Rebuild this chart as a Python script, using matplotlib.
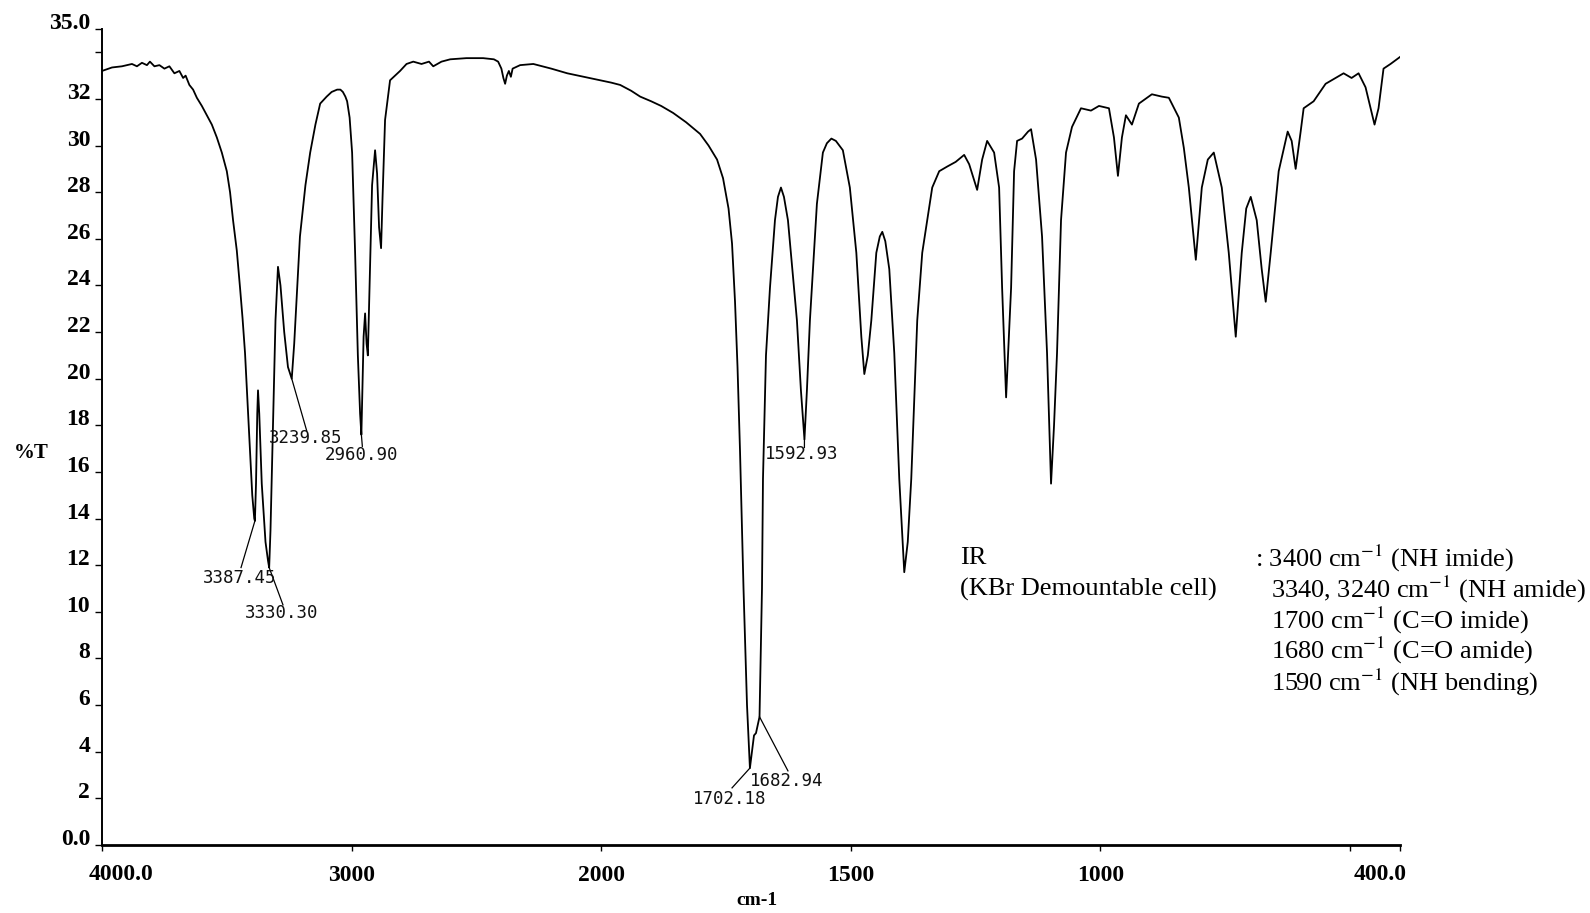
import numpy as np
import matplotlib.pyplot as plt

plt.rcParams['font.family'] = ['Liberation Serif', 'DejaVu Serif']
plt.rcParams['mathtext.fontset'] = 'stix'

# IR spectrum, wavenumber (cm-1) vs %T
wavenumber = [
    4000, 3960, 3920, 3880, 3860, 3840, 3820, 3808, 3790, 3770, 3750, 3730,
    3710, 3690, 3675, 3665, 3650, 3635, 3620, 3600, 3580, 3560, 3540, 3520,
    3500, 3487, 3475, 3460, 3447, 3437, 3427, 3410, 3398, 3390, 3387.45,
    3383, 3378, 3375, 3370, 3360, 3345, 3335, 3330.30, 3325, 3315, 3305,
    3295, 3285, 3270, 3255, 3239.85, 3230, 3207, 3185, 3166, 3145, 3126,
    3100, 3080, 3058, 3045, 3035, 3025, 3018, 3008, 2998, 2986, 2975, 2966,
    2960.90, 2957, 2952, 2946, 2940, 2935, 2928, 2918, 2906, 2898, 2890,
    2882, 2876, 2866, 2846, 2806, 2780, 2753, 2720, 2690, 2673, 2640, 2605,
    2540, 2473, 2430, 2413, 2400, 2392, 2385, 2378, 2370, 2362, 2355, 2325,
    2272, 2200, 2136, 2070, 2004, 1980, 1962, 1940, 1922, 1900, 1880, 1856,
    1830, 1802, 1785, 1768, 1756, 1745, 1738, 1732, 1727, 1722, 1715, 1708,
    1702.18, 1698, 1694, 1690, 1686, 1682.94, 1678, 1676, 1670, 1662, 1652,
    1646, 1640, 1634, 1626, 1608, 1600, 1592.93, 1588, 1582, 1568, 1556,
    1548, 1539, 1530, 1516, 1502, 1489, 1479, 1473, 1466, 1459, 1449, 1442,
    1437, 1431, 1423, 1413, 1403, 1393, 1386, 1379, 1367, 1357, 1337, 1323,
    1307, 1290, 1273, 1263, 1247, 1237, 1227, 1213, 1203, 1197, 1189, 1184,
    1179, 1173, 1167, 1157, 1145, 1139, 1129, 1117, 1107, 1099, 1093, 1087,
    1079, 1069, 1057, 1039, 1019, 1003, 983, 973, 965, 957, 949, 937, 923,
    897, 877, 863, 843, 833, 823, 809, 797, 785, 773, 757, 743, 729, 717,
    708, 699, 687, 677, 669, 659, 643, 625, 617, 609, 599, 593, 573, 549,
    513, 497, 483, 469, 451, 443, 433, 419, 400,
]
transmittance = [
    33.2, 33.35, 33.4, 33.5, 33.4, 33.55, 33.45, 33.6, 33.4, 33.45, 33.3, 33.4,
    33.1, 33.2, 32.9, 33.0, 32.6, 32.4, 32.05, 31.7, 31.3, 30.9, 30.35, 29.7,
    28.9, 28.0, 26.8, 25.5, 23.9, 22.6, 21.1, 17.5, 15.0, 14.0, 13.9,
    15.5, 18.5, 19.5, 18.5, 15.5, 13.0, 12.2, 11.9, 13.5, 18.0, 22.5,
    24.8, 24.0, 22.0, 20.5, 20.0, 21.5, 26.1, 28.3, 29.7, 30.9, 31.8,
    32.1, 32.3, 32.4, 32.4, 32.3, 32.1, 31.9, 31.2, 29.7, 25.4, 21.0, 18.5,
    17.6, 19.5, 21.8, 22.8, 21.5, 21.0, 24.0, 28.3, 29.8, 28.8, 26.5,
    25.6, 27.8, 31.1, 32.8, 33.2, 33.5, 33.6, 33.5, 33.6, 33.4, 33.6, 33.7,
    33.75, 33.75, 33.7, 33.6, 33.3, 32.9, 32.65, 33.0, 33.2, 32.95, 33.3, 33.45,
    33.5, 33.3, 33.1, 32.95, 32.8, 32.7, 32.6, 32.35, 32.1, 31.9, 31.7, 31.4,
    31.0, 30.5, 30.0, 29.4, 28.6, 27.3, 25.8, 23.3, 20.5, 16.9, 11.0, 6.0,
    3.3, 4.0, 4.7, 4.8, 5.2, 5.5, 11.0, 15.7, 21.0, 23.9, 26.8,
    27.8, 28.2, 27.8, 26.8, 22.5, 19.5, 17.4, 19.5, 22.5, 27.5, 29.7,
    30.1, 30.3, 30.2, 29.8, 28.2, 25.4, 21.8, 20.2, 21.0, 22.5, 25.4, 26.1,
    26.3, 25.9, 24.7, 21.1, 15.7, 11.7, 13.0, 15.7, 22.5, 25.4, 28.2, 28.9,
    29.1, 29.3, 29.6, 29.2, 28.1, 29.4, 30.2, 29.7, 28.2, 23.9, 19.2, 21.5,
    23.9, 28.9, 30.2, 30.3, 30.6, 30.7, 29.4, 26.1, 21.1, 15.5, 18.0, 21.1,
    26.8, 29.7, 30.8, 31.6, 31.5, 31.7, 31.6, 30.35, 28.7, 30.35, 31.3, 30.9, 31.8,
    32.2, 32.1, 32.05, 31.2, 29.9, 28.2, 25.1, 28.2, 29.4, 29.7, 28.2, 25.4, 21.8, 25.4,
    27.3, 27.8, 26.8, 24.7, 23.3, 25.4, 28.9, 30.6, 30.2, 29.0, 30.6, 31.6, 31.9, 32.65,
    33.1, 32.9, 33.1, 32.5, 30.9, 31.6, 33.3, 33.5, 33.8,
]

# peak picks: label, text anchor (left, middle) and leader end
peak_names = ['3387.45', '3330.30', '3239.85', '2960.90', '1702.18', '1682.94', '1592.93']
peak_wn = [3387.45, 3330.30, 3239.85, 2960.90, 1702.18, 1682.94, 1592.93]
label_x = [3595, 3427, 3332, 3106, 1816, 1702, 1672]
label_y = [11.46, 9.96, 17.47, 16.74, 1.97, 2.75, 16.78]
leader_x = [3443, 3275, 3180, 2957, 1738, 1626, 1593]
leader_y = [11.9, 10.3, 17.77, 17.1, 2.45, 3.18, 17.05]

ytick_vals = [0, 2, 4, 6, 8, 10, 12, 14, 16, 18, 20, 22, 24, 26, 28, 30, 32, 34, 35]
ytick_text = ['0.0', '2', '4', '6', '8', '10', '12', '14', '16', '18', '20', '22',
              '24', '26', '28', '30', '32', '', '35.0']
xtick_vals = [4000, 3000, 2000, 1500, 1000, 500, 400]
xtick_text = ['', '3000', '2000', '1500', '1000', '', '']

assignments = [
    ': 3400 cm$^{-1}$ (NH imide)',
    '3340, 3240 cm$^{-1}$ (NH amide)',
    '1700 cm$^{-1}$ (C=O imide)',
    '1680 cm$^{-1}$ (C=O amide)',
    '1590 cm$^{-1}$ (NH bending)',
]


def fwd(w):
    # below 2000 cm-1 the axis is stretched by a factor of two
    w = np.asarray(w, dtype=float)
    return np.where(w >= 2000, w, 2 * w - 2000)


def inv(p):
    p = np.asarray(p, dtype=float)
    return np.where(p >= 2000, p, (p + 2000) / 2)


W, H = 1590, 913
fig = plt.figure(figsize=(W / 100, H / 100), dpi=100)
ax = fig.add_axes([102 / W, 1 - 845 / H, (1400 - 102) / W, (845 - 29) / H])
ax.set_xscale('function', functions=(fwd, inv))

ax.plot(wavenumber, transmittance, color='black', lw=1.3)
ax.set_xlim(4000, 400)
ax.set_ylim(0, 35)

for s in ['top', 'right']:
    ax.spines[s].set_visible(False)
ax.spines['left'].set_linewidth(1.4)
ax.spines['bottom'].set_linewidth(2.0)

ax.set_yticks(ytick_vals)
ax.set_yticklabels(ytick_text)
ax.set_xticks(xtick_vals)
ax.set_xticklabels(xtick_text)
ax.xaxis.set_minor_locator(plt.NullLocator())
ax.tick_params(axis='y', direction='out', length=5, width=1, pad=3.5, labelsize=17)
ax.tick_params(axis='x', direction='out', length=4.5, width=1, pad=10, labelsize=17)
for lab in ax.get_yticklabels():
    lab.set_fontweight('bold')
    lab.set_va('baseline')
for lab in ax.get_xticklabels():
    lab.set_fontweight('bold')

# end labels sit a little inside their ticks
ax.annotate('4000.0', xy=(4000, 0), xytext=(14, -21), textcoords='offset points',
            ha='center', va='center', fontsize=17, fontweight='bold')
ax.annotate('400.0', xy=(400, 0), xytext=(-14, -21), textcoords='offset points',
            ha='center', va='center', fontsize=17, fontweight='bold')

# peak labels with leader lines
for name, wn, lx, ly, ex, ey in zip(peak_names, peak_wn, label_x, label_y, leader_x, leader_y):
    ty = np.interp(wn, wavenumber[::-1], transmittance[::-1])
    ax.plot([wn, ex], [ty, ey], color='black', lw=0.9)
    ax.text(lx, ly, name, ha='left', va='center', fontsize=12.5,
            family='DejaVu Sans Mono', color='#111111')

fig.text(757 / W, 1 - 900 / H, 'cm-1', ha='center', va='center', fontsize=14, fontweight='bold')
fig.text(14 / W, 1 - 453 / H, '%T', ha='left', va='center', fontsize=15, fontweight='bold')

fig.text(960 / W, 1 - 558 / H, 'IR', ha='left', va='center', fontsize=19)
fig.text(960 / W, 1 - 589 / H, '(KBr Demountable cell)', ha='left', va='center', fontsize=19)
rows_y = [558, 589, 620, 650, 682]
for i, (txt, yy) in enumerate(zip(assignments, rows_y)):
    xx = 1255 if i == 0 else 1271
    fig.text(xx / W, 1 - yy / H, txt, ha='left', va='center', fontsize=19)

fig.savefig('out.png', dpi=100)
